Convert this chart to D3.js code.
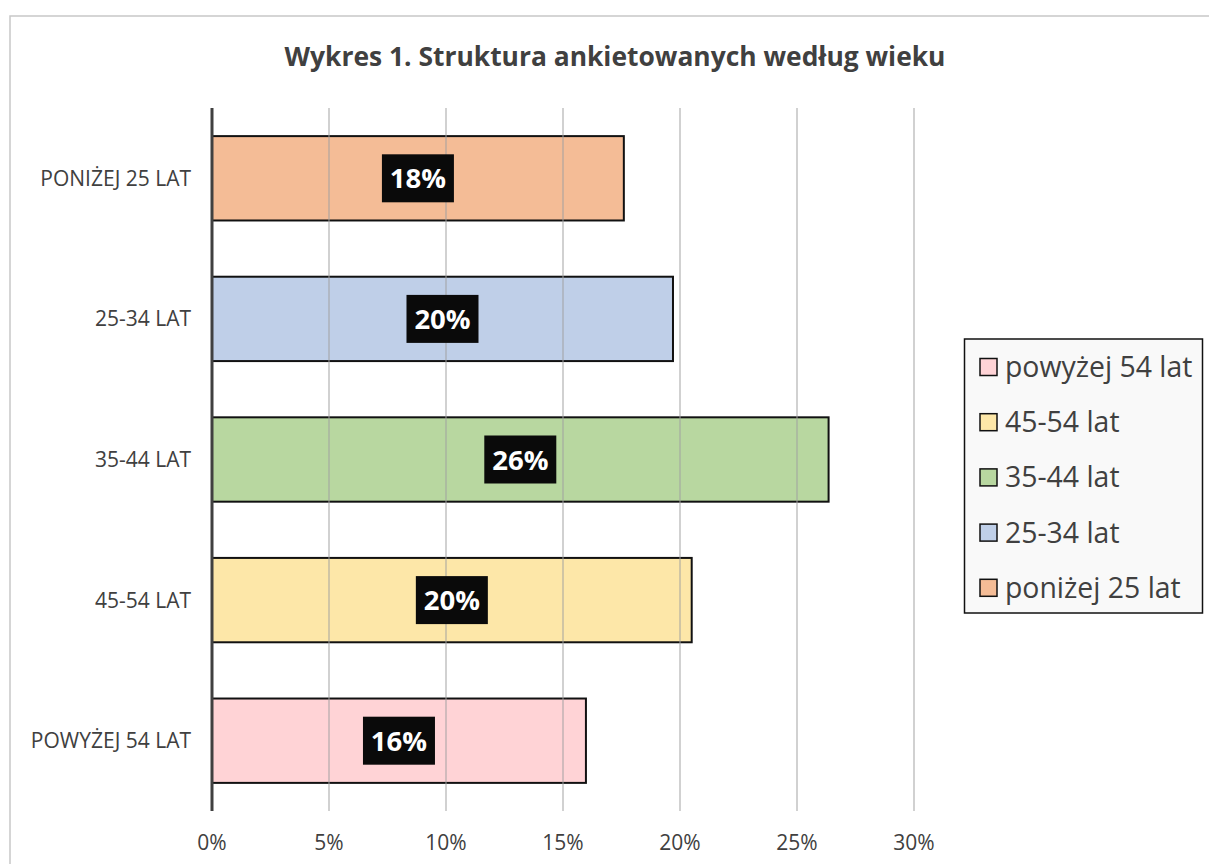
<!DOCTYPE html>
<html><head><meta charset="utf-8">
<script src="https://cdn.jsdelivr.net/npm/d3@7"></script>
<style>body{margin:0;background:#fff}svg{display:block}</style>
</head><body>
<script>
const categories = ["PONIŻEJ 25 LAT","25-34 LAT","35-44 LAT","45-54 LAT","POWYŻEJ 54 LAT"];
const legendNames = ["poniżej 25 lat","25-34 lat","35-44 lat","45-54 lat","powyżej 54 lat"];
const values = [17.6, 19.7, 26.35, 20.5, 15.98];
const labels = ["18%","20%","26%","20%","16%"];
const colors = ["#F4BC96","#BFCFE8","#B8D7A0","#FDE7A8","#FFD3D6"];
const ticks = [0,5,10,15,20,25,30];
const title = "Wykres 1. Struktura ankietowanych według wieku";

const W=1209,H=864;
const font = "'Open Sans', 'Noto Sans', sans-serif";
const svg = d3.select("body").append("svg").attr("width",W).attr("height",H);
svg.append("rect").attr("x",10).attr("y",16).attr("width",W+20).attr("height",H+20)
  .attr("fill","#fff").attr("stroke","#c8c8c8").attr("stroke-width",1.5);

svg.append("text").attr("x",615).attr("y",66).attr("text-anchor","middle")
  .attr("font-family",font).attr("font-weight","bold").attr("font-size",26.4)
  .attr("fill","#404040").text(title);

const x = d3.scaleLinear().domain([0,30]).range([212,914]);
const y = d3.scaleBand().domain(categories).range([108,811]).paddingInner(0.4).paddingOuter(0.2);

// bars
svg.append("g").selectAll("rect").data(categories).join("rect")
  .attr("x",x(0)).attr("y",d=>y(d)).attr("width",(d,i)=>x(values[i])-x(0))
  .attr("height",y.bandwidth()).attr("fill",(d,i)=>colors[i])
  .attr("stroke","#111").attr("stroke-width",2);

// gridlines
const grid = svg.append("g");
grid.selectAll("line").data(ticks.slice(1)).join("line")
  .attr("x1",d=>x(d)).attr("x2",d=>x(d)).attr("y1",108).attr("y2",811)
  .attr("stroke","#a0a0a0").attr("stroke-opacity",0.65).attr("stroke-width",1.5);

// axis line
svg.append("line").attr("x1",x(0)).attr("x2",x(0)).attr("y1",108).attr("y2",811)
  .attr("stroke","#404040").attr("stroke-width",3);

// tick labels
svg.append("g").selectAll("text").data(ticks).join("text")
  .attr("x",d=>x(d)).attr("y",850).attr("text-anchor","middle")
  .attr("font-family",font).attr("font-size",21).attr("fill","#404040")
  .text(d=>d+"%");

// category labels
svg.append("g").selectAll("text").data(categories).join("text")
  .attr("x",191).attr("y",d=>y(d)+y.bandwidth()/2+7.5).attr("text-anchor","end")
  .attr("font-family",font).attr("font-size",21).attr("fill","#404040")
  .text(d=>d);

// data labels
const dl = svg.append("g").selectAll("g").data(categories).join("g")
  .attr("transform",(d,i)=>`translate(${(x(0)+x(values[i]))/2},${y(d)+y.bandwidth()/2})`);
dl.append("rect").attr("x",-36).attr("y",-24).attr("width",72).attr("height",48).attr("fill","#0a0a0a");
dl.append("text").attr("text-anchor","middle").attr("y",10)
  .attr("font-family",font).attr("font-weight","bold").attr("font-size",27.5)
  .attr("fill","#fff").text((d,i)=>labels[i]);

// legend
const lg = svg.append("g");
lg.append("rect").attr("x",964.5).attr("y",339).attr("width",238).attr("height",274)
  .attr("fill","#f9f9f9").attr("stroke","#111").attr("stroke-width",1.5);
const order = [4,3,2,1,0];
const items = lg.selectAll("g").data(order).join("g")
  .attr("transform",(d,k)=>`translate(0,${367+k*55.2})`);
items.append("rect").attr("x",980).attr("y",-8.5).attr("width",17).attr("height",17)
  .attr("fill",d=>colors[d]).attr("stroke","#111").attr("stroke-width",1.5);
items.append("text").attr("x",1005).attr("y",10)
  .attr("font-family",font).attr("font-size",28.4).attr("fill","#404040")
  .text(d=>legendNames[d]);
</script>
</body></html>
